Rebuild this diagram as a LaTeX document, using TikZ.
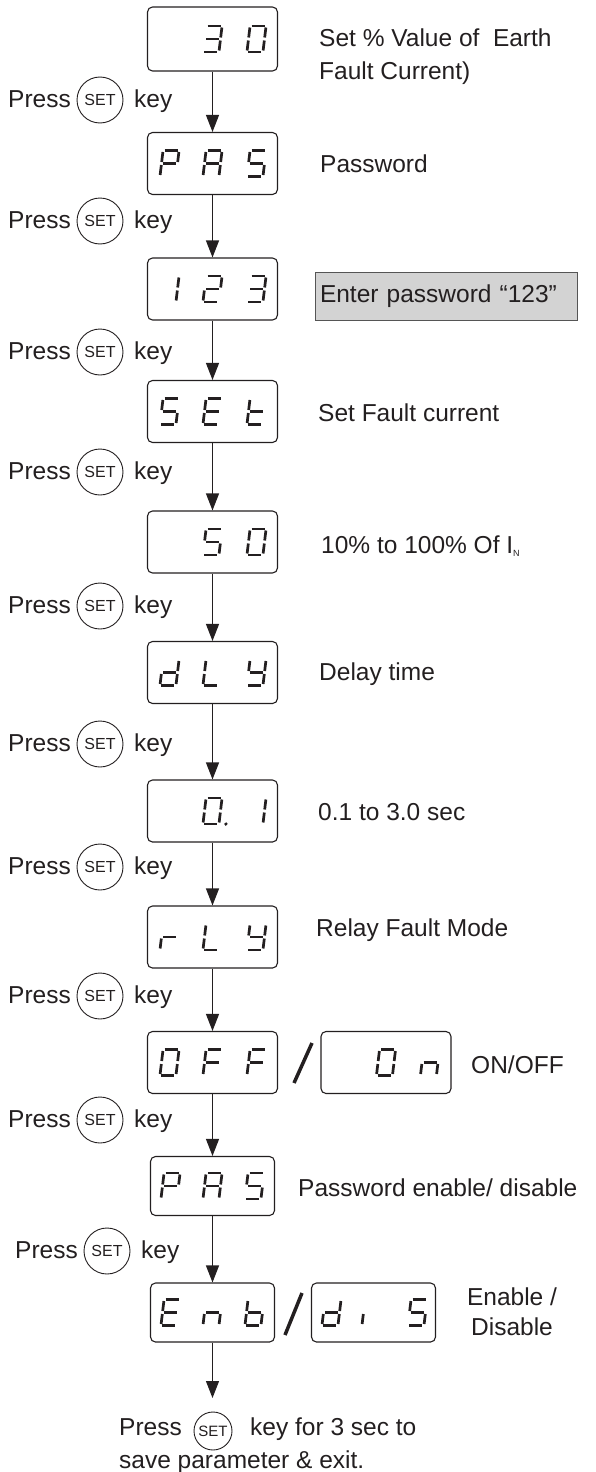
\documentclass[tikz,border=0pt]{standalone}
\usepackage{fontspec}
\setmainfont{Liberation Sans}
\usetikzlibrary{arrows.meta,calc}
\definecolor{ink}{HTML}{231F20}
\definecolor{grayfill}{HTML}{D3D3D3}
\definecolor{grayedge}{HTML}{555555}
\newcommand\lblfont{\fontsize{24.5}{33}\selectfont}
\newcommand\keyfont{\fontsize{16}{16}\selectfont}
\newcommand\sdig[3]{%
 \begin{scope}[shift={(#1.center)},xshift=#2pt,xslant=0.12]
 \foreach \s in {#3}{%
  \if\s a\draw[segline] (-6.5,-13)--(6.5,-13);\fi
  \if\s b\draw[segline] (8,-11.5)--(8,-1.5);\fi
  \if\s c\draw[segline] (8,1.5)--(8,11.5);\fi
  \if\s d\draw[segline] (-6.5,13)--(6.5,13);\fi
  \if\s e\draw[segline] (-8,1.5)--(-8,11.5);\fi
  \if\s f\draw[segline] (-8,-11.5)--(-8,-1.5);\fi
  \if\s g\draw[segline] (-6.5,0)--(6.5,0);\fi
  \if\s p\fill[ink] (15,13) circle (1.8);\fi
 }
 \end{scope}}
\tikzset{
 dispbox/.style={draw=ink, line width=1.1pt, rounded corners=5pt, minimum width=130pt, minimum height=62pt, inner sep=0pt},
 smallbox/.style={dispbox, minimum width=124pt, minimum height=59pt},
 segline/.style={draw=ink, line width=2.7pt, line cap=butt},
 keyc/.style={circle, draw=ink, line width=0.9pt, minimum size=46pt, inner sep=0pt, font=\keyfont, text=ink},
 lbl/.style={inner sep=0pt, anchor=base west, font=\lblfont, text=ink},
 lble/.style={lbl, anchor=base east},
 lblc/.style={lbl, anchor=base},
 arr/.style={draw=ink, line width=1.1pt, -{Triangle[length=17pt,width=13pt]}},
 slashline/.style={draw=ink, line width=3.5pt},
 graybox/.style={fill=grayfill, draw=grayedge, line width=1pt, minimum width=262pt, minimum height=48pt, text width=252pt, inner xsep=5pt, inner ysep=0pt, align=left, font=\lblfont, text=ink},
}
\begin{document}
\begin{tikzpicture}[x=1pt,y=-1pt]
\useasboundingbox (0,0) rectangle (595,1472);
% display boxes
\node[dispbox, minimum height=64pt] (b1) at (212.5,39) {};
\node[dispbox] (b2) at (212.5,163.5) {};
\node[dispbox] (b3) at (212.5,289) {};
\node[dispbox] (b4) at (212.5,411.5) {};
\node[dispbox] (b5) at (212.5,542) {};
\node[dispbox] (b6) at (212.5,672.5) {};
\node[dispbox] (b7) at (212.5,811) {};
\node[dispbox] (b8) at (212.5,937) {};
\node[dispbox] (b9) at (212.5,1062.5) {};
\node[dispbox] (b9b) at (386,1062.5) {};
\node[smallbox] (b10) at (212.5,1186) {};
\node[smallbox] (b11) at (212.5,1312.5) {};
\node[smallbox] (b11b) at (373.5,1312.5) {};
% digits
\sdig{b1}{0}{a,b,c,d,g}\sdig{b1}{44}{a,b,c,d,e,f}
\sdig{b2}{-43}{a,b,e,f,g}\sdig{b2}{0}{a,b,c,e,f,g}\sdig{b2}{44}{a,f,g,c,d}
\sdig{b3}{-43}{b,c}\sdig{b3}{0}{a,b,g,e,d}\sdig{b3}{44}{a,b,g,c,d}
\sdig{b4}{-43}{a,f,g,c,d}\sdig{b4}{0}{a,f,g,e,d}\sdig{b4}{44}{f,e,g,d}
\sdig{b5}{0}{a,f,g,c,d}\sdig{b5}{44}{a,b,c,d,e,f}
\sdig{b6}{-43}{b,c,d,e,g}\sdig{b6}{0}{f,e,d}\sdig{b6}{44}{f,b,g,c,d}
\sdig{b7}{0}{a,b,c,d,e,f,p}\sdig{b7}{44}{b,c}
\sdig{b8}{-43}{e,g}\sdig{b8}{0}{f,e,d}\sdig{b8}{44}{f,b,g,c,d}
\sdig{b9}{-43}{a,b,c,d,e,f}\sdig{b9}{0}{a,f,g,e}\sdig{b9}{44}{a,f,g,e}
\sdig{b9b}{0}{a,b,c,d,e,f}\sdig{b9b}{44}{e,g,c}
\sdig{b10}{-42}{a,b,e,f,g}\sdig{b10}{0}{a,b,c,e,f,g}\sdig{b10}{42}{a,f,g,c,d}
\sdig{b11}{-42}{a,f,g,e,d}\sdig{b11}{0}{e,g,c}\sdig{b11}{42}{f,e,d,c,g}
\sdig{b11b}{-42}{b,c,d,e,g}\sdig{b11b}{-2}{e}\sdig{b11b}{44}{a,f,g,c,d}
% slashes
\coordinate (s1a) at (294,1083); \coordinate (s1b) at (312,1043);
\coordinate (s2a) at (285,1335); \coordinate (s2b) at (302,1293);
\draw[slashline] (s1a) -- (s1b);
\draw[slashline] (s2a) -- (s2b);
% arrows
\draw[arr] (b1.south) -- (b2.north);
\draw[arr] (b2.south) -- (b3.north);
\draw[arr] (b3.south) -- (b4.north);
\draw[arr] (b4.south) -- (b5.north);
\draw[arr] (b5.south) -- (b6.north);
\draw[arr] (b6.south) -- (b7.north);
\draw[arr] (b7.south) -- (b8.north);
\draw[arr] (b8.south) -- (b9.north);
\draw[arr] (b9.south) -- (b10.north);
\draw[arr] (b10.south) -- (b11.north);
\coordinate (fin) at (212.5,1398);
\draw[arr] (b11.south) -- (fin);
% press rows
\foreach \i/\cx/\cy in {1/100/100,2/100/221,3/100/352,4/100/472,5/100/606,6/100/744,7/100/867,8/100/996,9/100/1120,10/107/1251}{
  \node[keyc] (k\i) at (\cx,\cy) {SET};
  \node[lble] (p\i) at ($(k\i.center)+(-29,7)$) {Press};
  \node[lbl] (y\i) at ($(k\i.center)+(34,7)$) {key};
}
% right labels
\node[lbl] (l1a) at (319,47) {Set \% Value of\ \ Earth};
\node[lbl] (l1b) at (319,80) {Fault Current)};
\node[lbl] (l2) at (320,172) {Password};
\node[graybox] (l3) at (446,296) {Enter password “123”};
\node[lbl] (l4) at (318,421) {Set Fault current};
\node[lbl] (l5) at (321,553) {10\% to 100\% Of I\raisebox{-3pt}{\fontsize{9}{9}\selectfont N}};
\node[lbl] (l6) at (319,680) {Delay time};
\node[lbl] (l7) at (318,820) {0.1 to 3.0 sec};
\node[lbl] (l8) at (316,936) {Relay Fault Mode};
\node[lbl] (l9) at (471,1073) {ON/OFF};
\node[lbl] (l10) at (298,1196) {Password enable/ disable};
\node[lblc] (l11a) at (512,1305) {Enable /};
\node[lblc] (l11b) at (512,1335) {Disable};
% final
\node[lbl] (fp) at (119,1435) {Press};
\node[keyc, minimum size=38pt, font=\fontsize{15}{15}\selectfont] (kf) at (213,1431) {SET};
\node[lbl] (fk) at (250,1435) {key for 3 sec to};
\node[lbl] (fs) at (119,1468) {save parameter \& exit.};
\end{tikzpicture}
\end{document}
